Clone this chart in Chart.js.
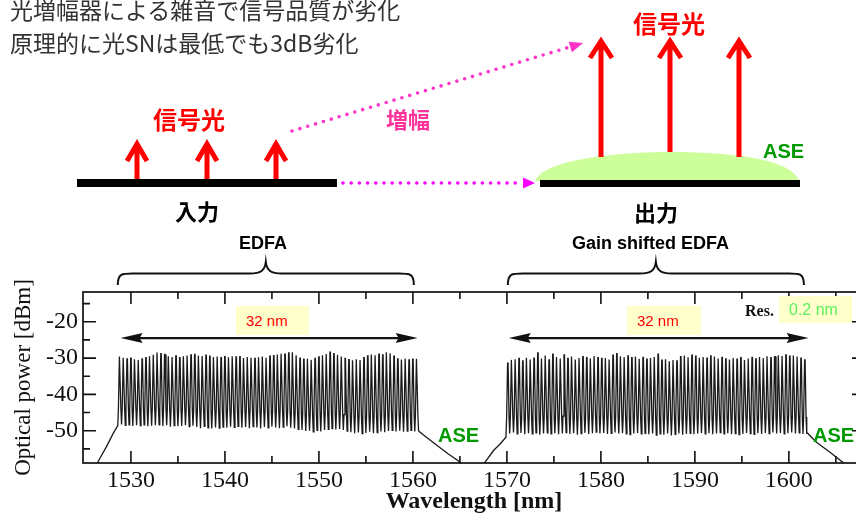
<!DOCTYPE html>
<html><head><meta charset="utf-8">
<script src="https://cdn.jsdelivr.net/npm/chart.js@4.4.0/dist/chart.umd.min.js"></script>
<style>
html,body{margin:0;padding:0;background:#fff;}
body{width:856px;height:517px;overflow:hidden;position:relative;}
#c{position:absolute;left:0;top:0;}
.t{position:absolute;white-space:nowrap;}
.jp{font-family:'Noto Sans CJK JP',sans-serif;}
.sans{font-family:'Liberation Sans',Arial,sans-serif;}
.serif{font-family:'Liberation Serif','Times New Roman',serif;}
.box{position:absolute;background:#ffffcc;box-sizing:border-box;font-family:'Liberation Sans',Arial,sans-serif;white-space:nowrap;}
</style></head><body>
<canvas id="c" width="865" height="517"></canvas>
<svg width="856" height="260" style="position:absolute;left:0;top:0">
  <!-- output ASE hump -->
  <path d="M535,181 C543,160 615,152 670,152 C725,152 792,158 799,181 Z" fill="#ccff99"/>
  <!-- baselines -->
  <rect x="77" y="179" width="260" height="8" fill="#000"/>
  <rect x="540" y="180" width="260" height="7" fill="#000"/>
  <!-- signal arrows -->
  <g stroke="#ff0000" stroke-width="5" fill="none" stroke-linejoin="miter" stroke-miterlimit="10">
    <path d="M137,179 V145 M127,161 L137,144 L147,161"/>
    <path d="M207,179 V145 M197,161 L207,144 L217,161"/>
    <path d="M276,179 V145 M266,161 L276,144 L286,161"/>
    <path d="M601,157 V42 M590,58 L601,41 L612,58"/>
    <path d="M670,152 V42 M659,58 L670,41 L681,58"/>
    <path d="M739,157 V42 M728,58 L739,41 L750,58"/>
  </g>
  <!-- dotted arrows -->
  <line x1="343" y1="183" x2="520" y2="183" stroke="#ff00ff" stroke-width="3.6" stroke-linecap="round" stroke-dasharray="0 8.2"/>
  <polygon points="535,183 523,177.5 523,188.5" fill="#ff00ff"/>
  <line x1="292" y1="131" x2="568" y2="47.5" stroke="#ff33cc" stroke-width="3.6" stroke-linecap="round" stroke-dasharray="0 8.2"/>
  <polygon points="583,43 568.7,41.7 571.9,52.2" fill="#ff33cc"/>
</svg>

<div class="t jp" style="left:10px;top:-6px;font-size:23px;line-height:30px;color:#333">光増幅器による雑音で信号品質が劣化</div>
<div class="t jp" style="left:10px;top:27px;font-size:23px;line-height:30px;color:#333">原理的に光SNは最低でも3dB劣化</div>
<div class="t jp" style="left:153px;top:104px;font-size:24px;line-height:30px;color:#ff0000;font-weight:bold">信号光</div>
<div class="t jp" style="left:633px;top:8px;font-size:24px;line-height:30px;color:#ff0000;font-weight:bold">信号光</div>
<div class="t jp" style="left:386px;top:103px;font-size:22px;line-height:30px;color:#ff3399;font-weight:bold">増幅</div>
<div class="t sans" style="left:763px;top:138px;font-size:20px;line-height:26px;color:#009a00;font-weight:bold">ASE</div>
<div class="t jp" style="left:175px;top:195px;font-size:22px;line-height:30px;color:#000;font-weight:bold">入力</div>
<div class="t jp" style="left:634px;top:196px;font-size:22px;line-height:30px;color:#000;font-weight:bold">出力</div>
<div class="t sans" style="left:239px;top:232px;font-size:18px;line-height:22px;color:#000;font-weight:bold">EDFA</div>
<div class="t sans" style="left:572px;top:232px;font-size:18px;line-height:22px;color:#000;font-weight:bold">Gain shifted EDFA</div>

<div class="box" style="left:236px;top:306px;width:73px;height:29px;padding-left:10px;line-height:29px;font-size:15px;color:#ff0000">32 nm</div>
<div class="box" style="left:627px;top:306px;width:74px;height:29px;padding-left:10px;line-height:29px;font-size:15px;color:#ff0000">32 nm</div>
<div class="t serif" style="left:745px;top:300px;font-size:16px;line-height:22px;color:#111;font-weight:bold">Res.</div>
<div class="box" style="left:779px;top:296px;width:73px;height:27px;padding-left:10px;line-height:28px;font-size:16px;color:#5ef05e">0.2 nm</div>
<div class="t sans" style="left:438px;top:422px;font-size:20px;line-height:26px;color:#009a00;font-weight:bold">ASE</div>
<div class="t sans" style="left:813px;top:422px;font-size:20px;line-height:26px;color:#009a00;font-weight:bold">ASE</div>

<script>
// ---------------- data ----------------
const chSpacing = 0.4;           // nm, channel grid
const edfaStart = 1528.8;        // first EDFA channel [nm]
const gsStart = 1570.1;          // first gain-shifted EDFA channel [nm]

// peak power of each channel [dBm]
const edfaPeaks = [
 -29.6,-29.9,-30.2,-30.0,-30.3,-30.5,-30.2,-29.9,-29.5,-29.1,
 -28.5,-28.8,-29.0,-29.5,-29.7,-29.4,-29.9,-29.5,-29.3,-29.1,
 -29.0,-29.3,-29.4,-29.2,-29.5,-29.7,-29.6,-29.9,-29.6,-29.8,
 -29.5,-29.7,-29.6,-30.0,-29.7,-29.9,-30.1,-29.8,-29.6,-29.9,
 -29.5,-29.3,-29.0,-28.8,-28.9,-28.6,-28.4,-29.2,-30.0,-30.3,
 -30.2,-30.5,-30.1,-29.7,-29.2,-28.9,-28.4,-28.8,-29.1,-29.6,
 -30.1,-30.4,-30.6,-30.3,-30.5,-29.9,-29.4,-29.0,-29.2,-28.9,
 -29.1,-28.4,-28.7,-29.5,-30.2,-30.4,-30.1,-30.5,-30.3,-30.2];
// noise floor between channels [dBm]
const edfaFloor = [
 -48.3,-48.5,-48.4,-48.7,-48.5,-48.6,-48.4,-48.8,-48.6,-48.5,
 -48.4,-48.7,-48.5,-48.9,-48.6,-48.8,-48.7,-48.5,-48.9,-48.6,
 -49.0,-49.3,-48.8,-49.2,-49.4,-49.1,-49.3,-49.0,-49.2,-48.9,
 -49.1,-48.8,-49.2,-49.0,-49.3,-48.9,-49.1,-49.4,-49.0,-49.2,
 -48.9,-49.1,-49.3,-49.0,-48.8,-49.2,-49.4,-49.6,-49.8,-50.1,
 -50.0,-50.3,-49.9,-50.2,-49.8,-49.6,-49.4,-49.7,-49.5,-49.8,
 -50.1,-50.4,-50.7,-50.5,-50.8,-50.6,-50.3,-50.7,-50.5,-50.2,
 -50.4,-50.1,-49.9,-50.2,-50.0,-50.3,-50.1,-49.9,-50.2,-50.0];
const gsPeaks = [
 -31.4,-30.5,-30.3,-30.1,-30.8,-29.9,-30.4,-30.0,-28.6,-30.1,
 -29.3,-30.5,-28.9,-29.7,-30.1,-29.1,-30.1,-29.6,-30.4,-30.0,
 -29.6,-29.9,-30.1,-29.4,-29.9,-30.1,-30.0,-30.4,-29.2,-28.8,
 -29.5,-29.8,-29.4,-29.9,-29.6,-30.2,-29.8,-30.3,-30.0,-29.7,
 -28.9,-30.6,-30.3,-30.9,-30.5,-30.8,-29.6,-29.3,-29.8,-29.2,
 -29.5,-29.9,-29.7,-30.0,-29.4,-29.6,-30.1,-29.8,-30.2,-30.4,
 -30.0,-30.3,-29.9,-30.5,-30.1,-29.8,-30.2,-29.7,-30.0,-29.5,
 -29.9,-29.6,-29.2,-29.4,-29.1,-29.5,-29.3,-29.6,-30.0,-30.5];
const gsFloor = [
 -50.8,-50.5,-50.9,-50.6,-51.0,-50.7,-50.9,-50.6,-51.1,-50.8,
 -50.6,-50.9,-50.7,-51.0,-50.8,-50.5,-50.9,-50.7,-51.1,-50.8,
 -50.6,-50.9,-50.7,-50.4,-50.8,-50.6,-50.9,-50.7,-50.5,-50.8,
 -50.6,-50.9,-51.1,-50.8,-50.6,-50.9,-50.7,-51.0,-50.8,-51.2,
 -50.9,-51.1,-50.8,-51.3,-51.0,-50.8,-51.1,-50.9,-50.7,-51.0,
 -50.8,-50.6,-50.9,-50.7,-51.0,-50.8,-50.5,-50.9,-50.7,-51.0,
 -50.8,-51.1,-50.9,-50.6,-50.8,-51.0,-50.7,-50.9,-50.6,-50.8,
 -50.5,-50.8,-50.6,-50.9,-50.7,-50.5,-50.8,-50.6,-50.9,-50.7];
// ASE shoulders outside the channel bands [nm, dBm]
const edfaTailLeft  = [[1526.2,-60.0],[1526.7,-57.6],[1527.4,-54.4],[1528.1,-50.8],[1528.6,-48.6]];
const edfaTailRight = [[1560.7,-50.3],[1561.2,-51.3],[1562.3,-53.5],[1563.7,-56.3],[1565.0,-58.6],[1565.3,-60.0]];
const gsTailLeft    = [[1567.5,-60.0],[1567.7,-58.6],[1568.6,-55.4],[1569.3,-53.6],[1569.9,-51.8]];
const gsTailRight   = [[1602.0,-50.7],[1602.9,-53.1],[1604.3,-55.8],[1605.7,-58.6],[1606.0,-60.0]];

// axes
const xMin = 1524.9, xMax = 1608.1, yMin = -58.9, yMax = -11.8;
const xTickValues = [1530,1540,1550,1560,1570,1580,1590,1600];
const xMinorTicks = [1535,1545,1555,1565,1575,1585,1595,1605];
const yTickValues = [-50,-40,-30,-20];
const yMinorTicks = [-55,-45,-35,-25,-15];
// annotation spans [nm]
const edfaBrace = [1528.6, 1560.1], gsBrace = [1570.1, 1601.6];
const edfaSpan = [1528.9, 1560.5], gsSpan = [1570.2, 1602.1];
const spanArrowLevel = -24.5;

// ---------------- build traces ----------------
function buildTrace(start, peaks, floors, tailL, tailR) {
  const pts = tailL.map(p => ({x: p[0], y: p[1]}));
  peaks.forEach((p, i) => {
    const l = start + i * chSpacing, f = floors[i];
    pts.push({x: l - 0.13, y: f + 4.5});
    pts.push({x: l - 0.025, y: p});
    pts.push({x: l + 0.025, y: p});
    pts.push({x: l + 0.13, y: f + 4.5});
    pts.push({x: l + 0.2, y: f});
  });
  tailR.forEach(p => pts.push({x: p[0], y: p[1]}));
  return pts;
}

const framePlugin = {
  id: 'frameTicks',
  afterDraw(chart) {
    const {ctx, chartArea: a, scales: {x, y}} = chart;
    ctx.save();
    ctx.strokeStyle = '#111';
    ctx.lineWidth = 1.7;
    ctx.strokeRect(a.left, a.top, a.right - a.left, a.bottom - a.top);
    ctx.lineWidth = 1.6;
    ctx.beginPath();
    const xt = (v, len) => { const px = x.getPixelForValue(v);
      ctx.moveTo(px, a.bottom); ctx.lineTo(px, a.bottom - len);
      ctx.moveTo(px, a.top); ctx.lineTo(px, a.top + len); };
    const yt = (v, len) => { const py = y.getPixelForValue(v);
      ctx.moveTo(a.left, py); ctx.lineTo(a.left + len, py);
      ctx.moveTo(a.right, py); ctx.lineTo(a.right - len, py); };
    xTickValues.forEach(v => xt(v, 12));
    xMinorTicks.forEach(v => xt(v, 7));
    yTickValues.forEach(v => yt(v, 13));
    yMinorTicks.forEach(v => yt(v, 7));
    ctx.stroke();

    // braces above the bands
    ctx.lineWidth = 2;
    const brace = (v1, v2) => {
      const x1 = x.getPixelForValue(v1), x2 = x.getPixelForValue(v2), m = (x1 + x2) / 2;
      const yE = 285, yB = 273.5, yT = 262;
      ctx.beginPath();
      ctx.moveTo(x1, yE);
      ctx.bezierCurveTo(x1, yB - 1, x1 + 5, yB, x1 + 18, yB);
      ctx.lineTo(m - 16, yB);
      ctx.bezierCurveTo(m - 5, yB, m - 1, yB - 3, m, yT);
      ctx.bezierCurveTo(m + 1, yB - 3, m + 5, yB, m + 16, yB);
      ctx.lineTo(x2 - 18, yB);
      ctx.bezierCurveTo(x2 - 5, yB, x2, yB - 1, x2, yE);
      ctx.stroke();
    };
    brace(edfaBrace[0], edfaBrace[1]);
    brace(gsBrace[0], gsBrace[1]);

    // double arrows (32 nm)
    const dbl = (v1, v2) => {
      const x1 = x.getPixelForValue(v1), x2 = x.getPixelForValue(v2), yy = y.getPixelForValue(spanArrowLevel);
      ctx.fillStyle = '#111';
      ctx.lineWidth = 2.2;
      ctx.beginPath(); ctx.moveTo(x1 + 15, yy); ctx.lineTo(x2 - 15, yy); ctx.stroke();
      ctx.beginPath(); ctx.moveTo(x1, yy); ctx.lineTo(x1 + 22, yy - 5); ctx.lineTo(x1 + 19, yy); ctx.lineTo(x1 + 22, yy + 5); ctx.closePath(); ctx.fill();
      ctx.beginPath(); ctx.moveTo(x2, yy); ctx.lineTo(x2 - 22, yy - 5); ctx.lineTo(x2 - 19, yy); ctx.lineTo(x2 - 22, yy + 5); ctx.closePath(); ctx.fill();
    };
    dbl(edfaSpan[0], edfaSpan[1]);
    dbl(gsSpan[0], gsSpan[1]);
    ctx.restore();
  }
};

new Chart(document.getElementById('c'), {
  type: 'line',
  data: {
    datasets: [
      {label: 'EDFA', data: buildTrace(edfaStart, edfaPeaks, edfaFloor, edfaTailLeft, edfaTailRight)},
      {label: 'Gain shifted EDFA', data: buildTrace(gsStart, gsPeaks, gsFloor, gsTailLeft, gsTailRight)}
    ].map(d => Object.assign(d, {borderColor: '#1a1a1a', borderWidth: 1.3, pointRadius: 0, tension: 0, fill: false}))
  },
  options: {
    responsive: false, animation: false, devicePixelRatio: 1,
    parsing: false, normalized: true,
    layout: {padding: {top: 292, left: 0, right: 0, bottom: 0}},
    plugins: {legend: {display: false}, tooltip: {enabled: false}},
    scales: {
      x: {
        type: 'linear', min: xMin, max: xMax,
        afterFit(s) { s.height = 54; },
        afterBuildTicks(s) { s.ticks = xTickValues.map(v => ({value: v})); },
        grid: {display: false, drawTicks: false}, border: {display: false},
        ticks: {font: {family: 'Liberation Serif', size: 24}, color: '#111', padding: 3, maxRotation: 0, autoSkip: false,
          callback: v => String(v)},
        title: {display: true, text: 'Wavelength [nm]', color: '#111',
          font: {family: 'Liberation Serif', size: 24, weight: 'bold', lineHeight: 1.2}, padding: {top: 0, bottom: 1}}
      },
      y: {
        type: 'linear', min: yMin, max: yMax,
        afterFit(s) { s.width = 83; },
        afterBuildTicks(s) { s.ticks = yTickValues.map(v => ({value: v})); },
        grid: {display: false, drawTicks: false}, border: {display: false},
        ticks: {font: {family: 'Liberation Serif', size: 24}, color: '#111', padding: 5, autoSkip: false,
          callback: v => String(v)},
        title: {display: true, text: 'Optical power [dBm]', color: '#111',
          font: {family: 'Liberation Serif', size: 23, lineHeight: 1.2}, padding: {top: 10, bottom: 0}}
      }
    }
  },
  plugins: [framePlugin]
});
</script>
</body></html>
